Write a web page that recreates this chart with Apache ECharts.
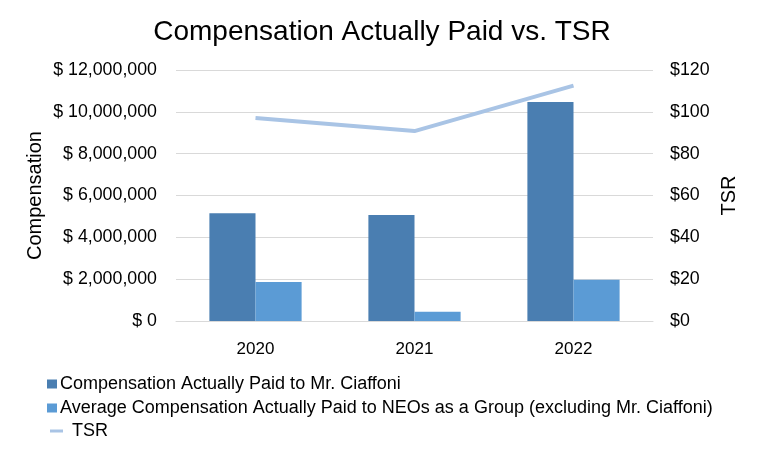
<!DOCTYPE html>
<html>
<head>
<meta charset="utf-8">
<script src="https://cdn.jsdelivr.net/npm/echarts@6/dist/echarts.min.js"></script>
<style>html,body{margin:0;padding:0;background:#fff;}#c{width:764px;height:455px;}</style>
</head>
<body>
<div id="c"></div>
<script>
const categories = ['2020', '2021', '2022'];
const ceoComp = [5150000, 5070000, 10470000];
const neoComp = [1860000, 440000, 1970000];
const tsr = [97.0, 90.8, 112.5];
const leftTicks = { min: 0, max: 12000000, interval: 2000000 };
const rightTicks = { min: 0, max: 120, interval: 20 };

const F = 'Liberation Sans, Arial, sans-serif';
const chart = echarts.init(document.getElementById('c'));
chart.setOption({
  animation: false,
  title: {
    text: 'Compensation Actually Paid vs. TSR',
    left: 'center', top: 13,
    textStyle: { fontFamily: F, fontSize: 28, fontWeight: 'normal', color: '#000' }
  },
  legend: [{
    orient: 'vertical', left: 47, top: 375, padding: 0,
    itemWidth: 10, itemHeight: 9, itemGap: 6,
    icon: 'rect',
    data: ['Compensation Actually Paid to Mr. Ciaffoni', 'Average Compensation Actually Paid to NEOs as a Group (excluding Mr. Ciaffoni)'],
    textStyle: { fontFamily: F, fontSize: 18, color: '#000', padding: [0, 0, 0, -2] }
  }, {
    orient: 'vertical', left: 50, top: 422, padding: 0,
    itemWidth: 13, itemHeight: 3,
    icon: 'rect',
    data: ['TSR'],
    textStyle: { fontFamily: F, fontSize: 18, color: '#000', padding: [0, 0, 0, 4] }
  }],
  grid: { left: 176, right: 111, top: 70, bottom: 134 },
  xAxis: {
    type: 'category', data: categories,
    axisLine: { show: true, lineStyle: { color: '#d9d9d9' } },
    axisTick: { show: false },
    axisLabel: { fontFamily: F, fontSize: 17, color: '#000', margin: 20 }
  },
  yAxis: [{
    type: 'value', min: leftTicks.min, max: leftTicks.max, interval: leftTicks.interval,
    name: 'Compensation', nameLocation: 'middle', nameGap: 131, nameRotate: 90,
    nameMoveOverlap: false,
    nameTextStyle: { fontFamily: F, fontSize: 20, color: '#000' },
    axisLine: { show: false }, axisTick: { show: false },
    splitLine: { lineStyle: { color: '#d9d9d9', width: 1 } },
    axisLabel: {
      fontFamily: F, fontSize: 17.8, color: '#000', margin: 19,
      formatter: v => '$ ' + v.toLocaleString('en-US')
    }
  }, {
    type: 'value', min: rightTicks.min, max: rightTicks.max, interval: rightTicks.interval,
    name: 'TSR', nameLocation: 'middle', nameGap: 66, nameRotate: 90,
    nameMoveOverlap: false,
    nameTextStyle: { fontFamily: F, fontSize: 20, color: '#000' },
    axisLine: { show: false }, axisTick: { show: false },
    splitLine: { show: false },
    axisLabel: {
      fontFamily: F, fontSize: 17.8, color: '#000', margin: 17,
      formatter: v => '$' + v
    }
  }],
  series: [{
    name: 'Compensation Actually Paid to Mr. Ciaffoni',
    type: 'bar', data: ceoComp, yAxisIndex: 0,
    barGap: '0%', barCategoryGap: '42%',
    itemStyle: { color: '#4a7eb1' }
  }, {
    name: 'Average Compensation Actually Paid to NEOs as a Group (excluding Mr. Ciaffoni)',
    type: 'bar', data: neoComp, yAxisIndex: 0,
    itemStyle: { color: '#5b9bd5' }
  }, {
    name: 'TSR',
    type: 'line', data: tsr, yAxisIndex: 1,
    showSymbol: false, symbol: 'none',
    lineStyle: { color: '#a9c4e5', width: 4 },
    itemStyle: { color: '#a9c4e5' }
  }]
});
</script>
</body>
</html>
